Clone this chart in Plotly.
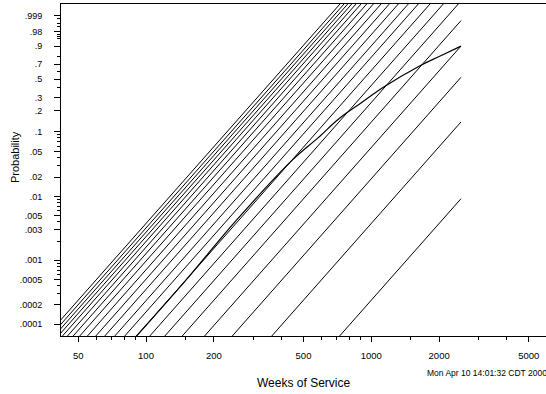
import numpy as np
import plotly.graph_objects as go

# ---------------- data ----------------
P_START = 0.00005          # probability at which every straight line starts (below the axis)

# straight lines: start weeks (at P_START), end weeks and end probability
line_start_weeks = [33.9, 35.3, 36.7, 38.2, 39.9, 42.0, 44.5, 47.6, 51.5, 56.1,
                    61.5, 68.1, 75.4, 85.0, 97.4, 113.6,
                    135.7, 170.5, 226.3, 338.9, 677.8]
line_end_weeks = [742.1, 773.3, 803.3, 836.8, 874.4, 920.3, 975.3, 1043.5, 1129.0, 1228.8,
                  1347.2, 1491.6, 1652.5, 1862.1, 2133.2, 2487.4,
                  2500, 2500, 2500, 2500, 2500]
line_end_prob = [0.99999] * 16 + [0.9969, 0.90, 0.5255, 0.1378, 0.0092]

# curved (population) line
curve_weeks = [85, 150, 252.7, 446.9, 580, 713.7, 900, 1131, 1645, 2000, 2500]
curve_prob = [0.00005, 0.000485, 0.0043, 0.037, 0.080, 0.151, 0.255, 0.405, 0.678, 0.794, 0.90]

# axis ticks
y_tick_probs = [.999, .98, .9, .7, .5, .3, .2, .1, .05, .02, .01, .005, .003,
                .001, .0005, .0002, .0001]
y_tick_text = [".999", ".98", ".9", ".7", ".5", ".3", ".2", ".1", ".05", ".02", ".01",
               ".005", ".003", ".001", ".0005", ".0002", ".0001"]
y_minor_probs = [.0003, .0004, .0006, .0007, .0008, .0009,
                 .002, .004, .006, .007, .008, .009,
                 .03, .04, .06, .07, .08, .09,
                 .4, .6, .8, .95, .96, .97, .99, .995, .998]
x_tick_vals = [50, 100, 200, 500, 1000, 2000, 5000]
x_minor_vals = [40, 60, 70, 80, 90, 150, 300, 400, 600, 700, 800, 900, 1500, 3000, 4000]


def wb(p):
    """Weibull probability-paper scale."""
    p = np.asarray(p, dtype=float)
    return np.log10(-np.log(1.0 - p))


fig = go.Figure()

for ts, te, pe in zip(line_start_weeks, line_end_weeks, line_end_prob):
    fig.add_trace(go.Scatter(x=[ts, te], y=wb([P_START, pe]), mode="lines",
                             line=dict(color="black", width=1), hoverinfo="skip",
                             showlegend=False))

fig.add_trace(go.Scatter(x=curve_weeks, y=wb(curve_prob), mode="lines",
                         line=dict(color="black", width=1.2, shape="spline"),
                         hoverinfo="skip", showlegend=False))

font = "Liberation Sans, Arial, sans-serif"

fig.update_layout(
    width=546, height=394,
    margin=dict(l=61, r=0, t=4, b=58),
    paper_bgcolor="white", plot_bgcolor="white",
    font=dict(family=font, color="black", size=9),
    xaxis=dict(type="log", range=[1.6227, 3.7754], showgrid=False, zeroline=False,
               showline=True, linecolor="black", linewidth=1, mirror=True,
               tickmode="array", tickvals=x_tick_vals,
               ticktext=[str(v) for v in x_tick_vals],
               ticks="outside", ticklen=5, tickcolor="black", tickwidth=1,
               tickfont=dict(size=9.5), ticklabelstandoff=6,
               minor=dict(tickmode="array", tickvals=x_minor_vals, ticks="outside",
                          ticklen=3, tickcolor="black", tickwidth=1, showgrid=False)),
    yaxis=dict(range=[-4.188, 1.023], showgrid=False, zeroline=False,
               showline=True, linecolor="black", linewidth=1, mirror=False,
               tickmode="array", tickvals=list(wb(y_tick_probs)), ticktext=y_tick_text,
               ticks="outside", ticklen=6, tickcolor="black", tickwidth=1,
               tickfont=dict(size=9), ticklabelstandoff=10,
               minor=dict(tickmode="array", tickvals=list(wb(y_minor_probs)),
                          ticks="outside", ticklen=3, tickcolor="black", tickwidth=1,
                          showgrid=False)),
    annotations=[
        dict(text="Weeks of Service", xref="paper", yref="paper", x=0.5, y=-0.1416,
             xanchor="center", yanchor="middle", showarrow=False,
             font=dict(size=12, family=font)),
        dict(text="Probability", xref="paper", yref="paper", x=-0.0948, y=0.539,
             xanchor="center", yanchor="middle", textangle=-90, showarrow=False,
             font=dict(size=11, family=font)),
        dict(text="Mon Apr 10 14:01:32 CDT 2000", xref="paper", yref="paper",
             x=0.7505, y=-0.1114, xanchor="left", yanchor="middle", showarrow=False,
             font=dict(size=8.5, family=font)),
    ],
)

fig.write_html("out.html")
